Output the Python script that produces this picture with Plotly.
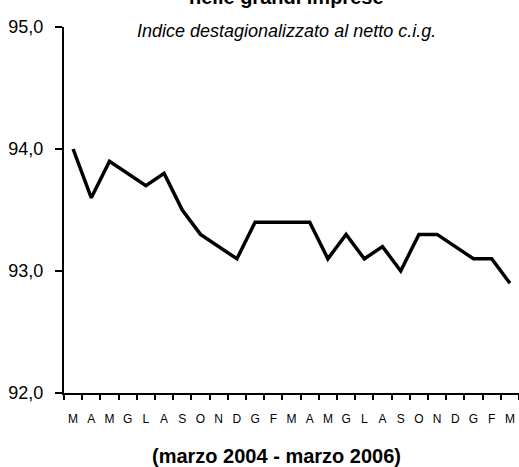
import plotly.graph_objects as go

months = ["M", "A", "M", "G", "L", "A", "S", "O", "N", "D", "G", "F",
          "M", "A", "M", "G", "L", "A", "S", "O", "N", "D", "G", "F", "M"]
values = [94.0, 93.6, 93.9, 93.8, 93.7, 93.8, 93.5, 93.3, 93.2, 93.1, 93.4, 93.4,
          93.4, 93.4, 93.1, 93.3, 93.1, 93.2, 93.0, 93.3, 93.3, 93.2, 93.1, 93.1, 92.9]
y_ticks = [92, 93, 94, 95]
y_ticktext = ["92,0", "93,0", "94,0", "95,0"]
title_text = "nelle grandi imprese"
subtitle_text = "Indice destagionalizzato al netto c.i.g."
xlabel_text = "(marzo 2004 - marzo 2006)"

FONT = "Liberation Sans, Arial, sans-serif"
x = list(range(len(values)))

fig = go.Figure()
fig.add_trace(go.Scatter(x=x, y=values, mode="lines",
                         line=dict(color="black", width=3.5), hoverinfo="skip"))

fig.update_layout(
    width=519, height=467,
    margin=dict(l=64, r=0, t=27, b=74),
    paper_bgcolor="white", plot_bgcolor="white",
    showlegend=False,
    font=dict(family=FONT, color="black"),
    xaxis=dict(
        range=[-0.5, len(values) - 0.5],
        tickmode="array", tickvals=x, ticktext=months,
        ticks="", ticklen=0,
        tickfont=dict(size=12, family=FONT, color="black"),
        showline=True, linecolor="black", linewidth=2,
        showgrid=False, zeroline=False,
        ticklabelstandoff=14,
        minor=dict(tickmode="array", tickvals=[i - 0.5 for i in range(len(values) + 1)],
                   ticks="outside", ticklen=5, tickwidth=1.5, tickcolor="black",
                   showgrid=False),
    ),
    yaxis=dict(
        range=[92, 95],
        tickmode="array", tickvals=y_ticks, ticktext=y_ticktext,
        ticks="outside", ticklen=7, tickwidth=1.5, tickcolor="black",
        tickfont=dict(size=18, family=FONT, color="black"),
        showline=True, linecolor="black", linewidth=2,
        showgrid=False, zeroline=False,
        ticklabelstandoff=8,
    ),
    annotations=[
        dict(text="<b>" + title_text + "</b>", xref="paper", yref="paper",
             x=0.488, y=1 + 30 / 366, xanchor="center", yanchor="middle",
             showarrow=False, font=dict(size=20, family=FONT, color="black")),
        dict(text="<i>" + subtitle_text + "</i>", xref="paper", yref="paper",
             x=0.488, y=1 - 4 / 366, xanchor="center", yanchor="middle",
             showarrow=False, font=dict(size=18, family=FONT, color="black")),
        dict(text="<b>" + xlabel_text + "</b>", xref="paper", yref="paper",
             x=0.468, y=-63 / 366, xanchor="center", yanchor="middle",
             showarrow=False, font=dict(size=20, family=FONT, color="black")),
    ],
)

fig.write_html("out.html", config={"displayModeBar": False},
               post_script="document.body.style.margin='0';document.body.style.overflow='hidden';")
